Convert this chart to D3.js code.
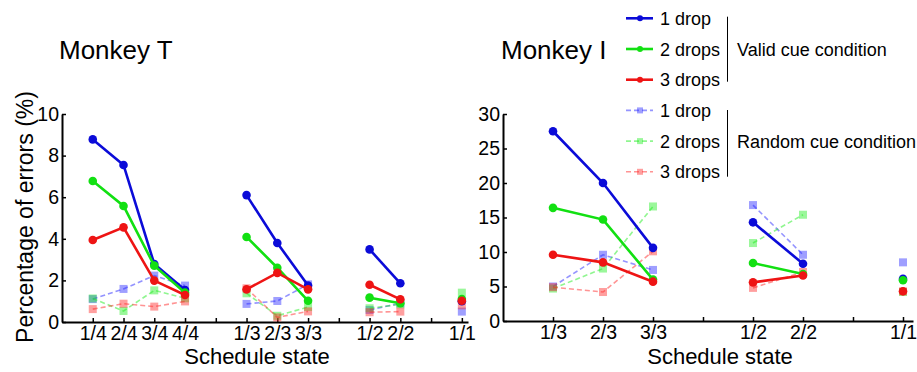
<!DOCTYPE html>
<html>
<head>
<meta charset="utf-8">
<script src="https://cdn.jsdelivr.net/npm/d3@7"></script>
<style>
  body { margin: 0; background: #fff; }
  svg text { font-family: Arial, "Liberation Sans", sans-serif; fill: #000; }
</style>
</head>
<body>
<svg id="chart" width="917" height="372"></svg>
<script>
// schedule groups, each group is drawn as its own short line
const groupsT = [["1/4", "2/4", "3/4", "4/4"], ["1/3", "2/3", "3/3"], ["1/2", "2/2"], ["1/1"]];
const groupsI = [["1/3", "2/3", "3/3"], ["1/2", "2/2"], ["1/1"]];

// Monkey T, valid cue
const tValid1 = [[8.78, 7.55, 2.79, 1.54], [6.1, 3.8, 1.75], [3.49, 1.86], [1.0]];
const tValid2 = [[6.78, 5.58, 2.71, 1.41], [4.09, 2.61, 1.02], [1.17, 0.9], [1.1]];
const tValid3 = [[3.94, 4.55, 1.99, 1.3], [1.57, 2.36, 1.57], [1.79, 1.09], [1.02]];
// Monkey T, random cue
const tRand1 = [[1.1, 1.59, 2.23, 1.75], [0.87, 1.01, 1.81], [0.58, 0.9], [0.5]];
const tRand2 = [[1.13, 0.53, 1.52, 1.14], [1.38, 0.3, 0.72], [0.66, 0.85], [1.41]];
const tRand3 = [[0.62, 0.88, 0.74, 0.99], [1.62, 0.22, 0.51], [0.47, 0.5], [0.8]];

// Monkey I, valid cue
const iValid1 = [[27.5, 20.0, 10.6], [14.3, 8.3], [6.1]];
const iValid2 = [[16.4, 14.7, 6.0], [8.4, 6.8], [5.9]];
const iValid3 = [[9.6, 8.5, 5.7], [5.6, 6.6], [4.3]];
// Monkey I, random cue
const iRand1 = [[5.0, 9.6, 7.4], [16.8, 9.6], [8.5]];
const iRand2 = [[4.7, 7.6, 16.6], [11.3, 15.4], [4.2]];
const iRand3 = [[4.9, 4.2, 10.1], [4.8, 7.1], [4.3]];

const tTicks = [0, 2, 4, 6, 8, 10];
const iTicks = [0, 5, 10, 15, 20, 25, 30];

const colValid = ["#0b0bd8", "#12e012", "#ee1414"];
const colRand = ["#2a2aff", "#22ee22", "#ff2a2a"];
const legendNames = ["1 drop", "2 drops", "3 drops"];

const svg = d3.select("#chart");

// put every group on consecutive slots, with one empty (tick only) slot between groups
function layoutSlots(groups) {
  const slots = [];
  const pos = [];
  let k = 0;
  groups.forEach((g, gi) => {
    const p = [];
    g.forEach(lab => { slots.push({ i: k, label: lab }); p.push(k); k++; });
    pos.push(p);
    if (gi < groups.length - 1) { slots.push({ i: k, label: "" }); k++; }
  });
  return { slots, pos, last: k - 1 };
}

function drawPanel(opt) {
  const lay = layoutSlots(opt.groups);
  const x = d3.scaleLinear().domain([-1, lay.last + 0.2]).range(opt.xRange);
  const y = d3.scaleLinear().domain(opt.yDomain).range([opt.y0, opt.y1]);
  const g = svg.append("g");

  // x axis
  const xa = g.append("g")
    .attr("transform", `translate(0,${opt.y0})`)
    .call(d3.axisBottom(x)
      .tickValues(lay.slots.map(s => s.i))
      .tickFormat(i => lay.slots.find(s => s.i === i).label)
      .tickSizeInner(-4).tickSizeOuter(0).tickPadding(4));
  // y axis
  const ya = g.append("g")
    .attr("transform", `translate(${opt.xRange[0]},0)`)
    .call(d3.axisLeft(y).tickValues(opt.ticks).tickSizeInner(-4).tickSizeOuter(0).tickPadding(3));
  [xa, ya].forEach(a => {
    a.select(".domain").attr("stroke", "#000").attr("stroke-width", 2);
    a.selectAll(".tick line").attr("stroke", "#000").attr("stroke-width", 1.5);
    a.selectAll("text").attr("font-size", 19.5).attr("font-family", "Arial, 'Liberation Sans', sans-serif").attr("fill", "#000");
  });

  const line = d3.line().x(d => x(d[0])).y(d => y(d[1]));

  // random cue (faint, dashed squares) underneath
  opt.rand.forEach((ser, s) => {
    ser.forEach((vals, gi) => {
      const pts = vals.map((v, j) => [lay.pos[gi][j], v]);
      g.append("path").datum(pts)
        .attr("d", line).attr("fill", "none")
        .attr("stroke", colRand[s]).attr("stroke-opacity", 0.5)
        .attr("stroke-width", 1.6).attr("stroke-dasharray", "5,3");
      g.selectAll(null).data(pts).join("rect")
        .attr("x", d => x(d[0]) - 4).attr("y", d => y(d[1]) - 4)
        .attr("width", 8).attr("height", 8)
        .attr("fill", colRand[s]).attr("fill-opacity", 0.45);
    });
  });

  // valid cue (solid lines, circles)
  opt.valid.forEach((ser, s) => {
    ser.forEach((vals, gi) => {
      const pts = vals.map((v, j) => [lay.pos[gi][j], v]);
      g.append("path").datum(pts)
        .attr("d", line).attr("fill", "none")
        .attr("stroke", colValid[s]).attr("stroke-width", 2.6);
      g.selectAll(null).data(pts).join("circle")
        .attr("cx", d => x(d[0])).attr("cy", d => y(d[1]))
        .attr("r", 4.3).attr("fill", colValid[s]);
    });
  });

  g.append("text")
    .attr("x", opt.titleLeft).attr("y", 59)
    .attr("font-size", 26).text(opt.title);
  g.append("text")
    .attr("x", opt.titleX).attr("y", 364)
    .attr("text-anchor", "middle").attr("font-size", 22)
    .text("Schedule state");
}

drawPanel({
  title: "Monkey T", groups: groupsT, xRange: [62, 468], y0: 322, y1: 114,
  yDomain: [0, 10], ticks: tTicks, titleX: 257, titleLeft: 59,
  valid: [tValid1, tValid2, tValid3], rand: [tRand1, tRand2, tRand3]
});
drawPanel({
  title: "Monkey I", groups: groupsI, xRange: [503, 913], y0: 321, y1: 114,
  yDomain: [0, 30], ticks: iTicks, titleX: 720, titleLeft: 501,
  valid: [iValid1, iValid2, iValid3], rand: [iRand1, iRand2, iRand3]
});

// y axis title
svg.append("text")
  .attr("transform", "translate(33,217) rotate(-90)")
  .attr("text-anchor", "middle").attr("font-size", 23)
  .text("Percentage of errors (%)");

// legend
const leg = svg.append("g");
const rowY = d => 18.3 + d * 30.7;
legendNames.forEach((name, i) => {
  const yv = rowY(i);
  leg.append("line").attr("x1", 626).attr("x2", 653).attr("y1", yv).attr("y2", yv)
    .attr("stroke", colValid[i]).attr("stroke-width", 2.6);
  leg.append("circle").attr("cx", 640).attr("cy", yv).attr("r", 3).attr("fill", colValid[i]);
  leg.append("text").attr("x", 660).attr("y", yv + 6.5).attr("font-size", 18).text(name);

  const yr = rowY(i + 3);
  leg.append("line").attr("x1", 626).attr("x2", 653).attr("y1", yr).attr("y2", yr)
    .attr("stroke", colRand[i]).attr("stroke-opacity", 0.5)
    .attr("stroke-width", 1.6).attr("stroke-dasharray", "5,3");
  leg.append("rect").attr("x", 637).attr("y", yr - 3).attr("width", 6).attr("height", 6)
    .attr("fill", colRand[i]).attr("fill-opacity", 0.45);
  leg.append("text").attr("x", 660).attr("y", yr + 6.5).attr("font-size", 18).text(name);
});
[[16.7, 81.7, "Valid cue condition", 1], [110, 176.7, "Random cue condition", 4]].forEach(b => {
  leg.append("line").attr("x1", 727.5).attr("x2", 727.5).attr("y1", b[0]).attr("y2", b[1])
    .attr("stroke", "#000").attr("stroke-width", 1);
  leg.append("text").attr("x", 737).attr("y", rowY(b[3]) + 6.5).attr("font-size", 18).text(b[2]);
});
</script>
</body>
</html>
